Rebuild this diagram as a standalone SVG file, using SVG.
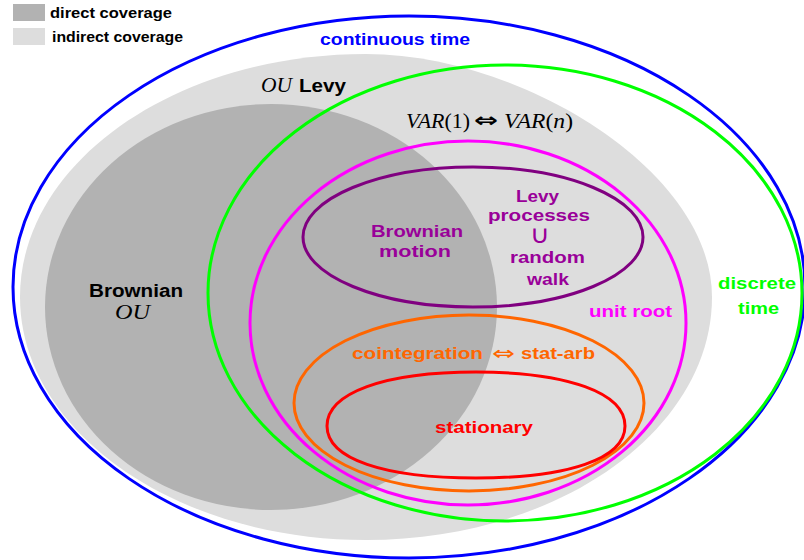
<svg xmlns="http://www.w3.org/2000/svg" width="804" height="560" viewBox="0 0 804 560">
<style>
.b{font-family:"Liberation Sans",Arial,sans-serif;font-weight:bold;}
.s{font-family:"Liberation Serif","Times New Roman",serif;font-style:italic;}
.sr{font-family:"Liberation Serif","Times New Roman",serif;}
.ar{font-family:"DejaVu Sans",sans-serif;}
.ln{fill:none;stroke-width:3;}
</style>
<rect width="804" height="560" fill="#ffffff"/>
<g id="legend">
<rect x="13" y="4" width="32" height="17" fill="#b2b2b2"/>
<rect x="13" y="28" width="32" height="17" fill="#dddddd"/>
<text class="b" x="50" y="17.5" font-size="14" textLength="122" lengthAdjust="spacingAndGlyphs" fill="#000">direct coverage</text>
<text class="b" x="52" y="41.5" font-size="14" textLength="131" lengthAdjust="spacingAndGlyphs" fill="#000">indirect coverage</text>
</g>
<g id="indirect">
<path d="M366,54 C520,54 712,170 712,297 C712,431 557,540 366,540 C175,540 20,431 20,297 C20,163 175,54 366,54 Z" fill="#dddddd"/>
</g>
<g id="direct">
<ellipse cx="271" cy="307" rx="226" ry="203" fill="#b2b2b2"/>
</g>
<g id="continuous">
<ellipse class="ln" cx="409" cy="287" rx="396" ry="271" stroke="#0000ff"/>
<text class="b" x="320" y="45" font-size="17" textLength="150" lengthAdjust="spacingAndGlyphs" fill="#0000ff">continuous time</text>
</g>
<g id="discrete">
<ellipse class="ln" cx="505" cy="293" rx="297" ry="228" stroke="#00ff00"/>
<text class="b" x="718" y="289" font-size="17" textLength="78" lengthAdjust="spacingAndGlyphs" fill="#00ff00">discrete</text>
<text class="b" x="738" y="314" font-size="17" textLength="41" lengthAdjust="spacingAndGlyphs" fill="#00ff00">time</text>
</g>
<g id="ou-levy">
<text class="s" x="261" y="92" font-size="22" textLength="31" lengthAdjust="spacingAndGlyphs" fill="#000">OU</text>
<text class="b" x="299" y="92" font-size="18" textLength="47" lengthAdjust="spacingAndGlyphs" fill="#000">Levy</text>
</g>
<g id="var">
<text class="sr" x="406" y="128" font-size="22" textLength="64" lengthAdjust="spacingAndGlyphs" fill="#000"><tspan font-style="italic">VAR</tspan>(1)</text>
<text class="ar" x="474" y="127" font-size="20" font-weight="bold" textLength="24" lengthAdjust="spacingAndGlyphs" fill="#000">⇔</text>
<text class="sr" x="504" y="128" font-size="22" textLength="69" lengthAdjust="spacingAndGlyphs" fill="#000"><tspan font-style="italic">VAR</tspan>(<tspan font-style="italic">n</tspan>)</text>
</g>
<g id="brownian-ou">
<text class="b" x="89" y="297" font-size="18" textLength="94" lengthAdjust="spacingAndGlyphs" fill="#000">Brownian</text>
<text class="s" x="115" y="319" font-size="22" textLength="35" lengthAdjust="spacingAndGlyphs" fill="#000">OU</text>
</g>
<g id="unit-root">
<ellipse class="ln" cx="468" cy="323" rx="218" ry="182" stroke="#ff00ff"/>
<text class="b" x="589" y="317" font-size="17" textLength="83" lengthAdjust="spacingAndGlyphs" fill="#ff00ff">unit root</text>
</g>
<g id="levy-processes">
<ellipse class="ln" cx="473" cy="237" rx="170" ry="70" stroke="#800080"/>
<text class="b" x="371" y="237" font-size="17" textLength="92" lengthAdjust="spacingAndGlyphs" fill="#990099">Brownian</text>
<text class="b" x="379" y="257" font-size="17" textLength="72" lengthAdjust="spacingAndGlyphs" fill="#990099">motion</text>
<text class="b" x="516" y="202" font-size="17" textLength="43" lengthAdjust="spacingAndGlyphs" fill="#990099">Levy</text>
<text class="b" x="488" y="221" font-size="17" textLength="102" lengthAdjust="spacingAndGlyphs" fill="#990099">processes</text>
<text class="ar" x="530" y="243" font-size="25" textLength="20" lengthAdjust="spacingAndGlyphs" fill="#990099">∪</text>
<text class="b" x="510" y="263" font-size="17" textLength="75" lengthAdjust="spacingAndGlyphs" fill="#990099">random</text>
<text class="b" x="527" y="285" font-size="17" textLength="42" lengthAdjust="spacingAndGlyphs" fill="#990099">walk</text>
</g>
<g id="cointegration">
<ellipse class="ln" cx="469" cy="403" rx="175" ry="88" stroke="#ff6600"/>
<text class="b" x="352" y="359" font-size="17" textLength="131" lengthAdjust="spacingAndGlyphs" fill="#ff6600">cointegration</text>
<text class="ar" x="492" y="360" font-size="20" textLength="23" lengthAdjust="spacingAndGlyphs" fill="#ff6600">⇔</text>
<text class="b" x="521" y="359" font-size="17" textLength="74" lengthAdjust="spacingAndGlyphs" fill="#ff6600">stat-arb</text>
</g>
<g id="stationary">
<path class="ln" d="M327,426 C327,393 384,372 476,372 C568,372 625,393 625,426 C625,459 568,478 476,478 C384,478 327,459 327,426 Z" stroke="#ff0000" stroke-width="3.5"/>
<text class="b" x="435" y="433" font-size="17" textLength="98" lengthAdjust="spacingAndGlyphs" fill="#ff0000">stationary</text>
</g>
</svg>
